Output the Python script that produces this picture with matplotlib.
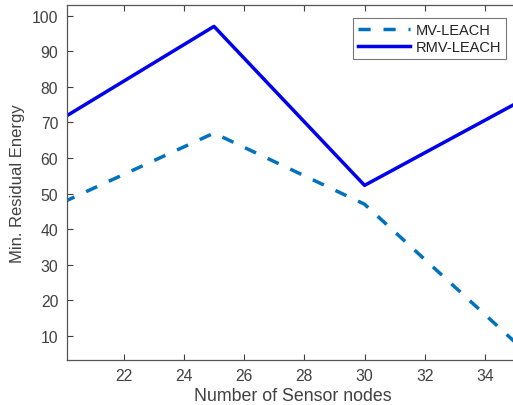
import matplotlib
matplotlib.use("Agg")
import matplotlib.pyplot as plt

plt.rcParams['font.family'] = ['Liberation Sans', 'DejaVu Sans']

nodes = [20, 25, 30, 35]
mv_leach = [47.6, 67.0, 47.0, 8.2]
rmv_leach = [71.3, 97.0, 52.3, 75.2]
x_ticks = [22, 24, 26, 28, 30, 32, 34]
y_ticks = [10, 20, 30, 40, 50, 60, 70, 80, 90, 100]

fig = plt.figure(figsize=(5.13, 4.06), dpi=100)
ax = fig.add_axes([66.7/513, 1-361/406, 1.0 - 66.7/513 + 0.01, (361-5.7)/406])

ax.plot(nodes, mv_leach, color='#0072BD', linewidth=2.5, linestyle=(0, (3.5, 3.7)), label='MV-LEACH')
ax.plot(nodes, rmv_leach, color='#0000EE', linewidth=2.5, linestyle='-', label='RMV-LEACH')

ax.set_xlim(20.11, 35.1)
ax.set_ylim(3.2, 103.1)
ax.set_xticks(x_ticks)
ax.set_yticks(y_ticks)
grey = '#404040'
ax.tick_params(direction='in', length=4, width=0.8, colors=grey, labelsize=11.3, top=True, right=False, pad=6)
for s in ['left', 'bottom', 'top']:
    ax.spines[s].set_color('#555555')
    ax.spines[s].set_linewidth(0.9)
ax.spines['right'].set_visible(False)

ax.set_xlabel('Number of Sensor nodes', fontsize=12.8, color=grey, labelpad=3)
ax.set_ylabel('Min. Residual Energy', fontsize=12, color=grey, labelpad=5)

leg = ax.legend(loc='upper right', bbox_to_anchor=(506/513, 1-19/406), bbox_transform=fig.transFigure,
                fontsize=10.5, frameon=True, fancybox=False,
                edgecolor='#555555', borderpad=0.35, handlelength=3.6, handletextpad=0.35, labelspacing=0.2,
                borderaxespad=0)
leg.get_frame().set_linewidth(0.8)
for t in leg.get_texts():
    t.set_color('#222222')

fig.savefig('out.png', dpi=100)
